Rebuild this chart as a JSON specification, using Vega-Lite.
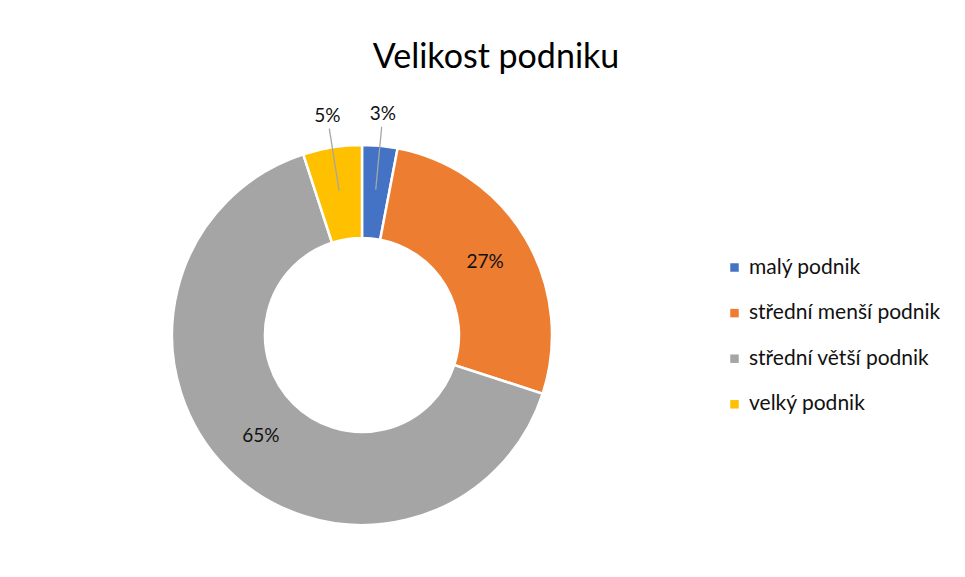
{
  "$schema": "https://vega.github.io/schema/vega-lite/v6.json",
  "width": 524,
  "height": 470,
  "autosize": "none",
  "padding": {"left": 100, "top": 100, "right": 341, "bottom": 7},
  "background": "white",
  "config": {"view": {"stroke": null}, "font": "Lato"},
  "title": {"text": "Velikost podniku", "fontSize": 34, "fontWeight": "normal", "color": "#000000", "dx": 134, "offset": 25},
  "data": {"values": [
    {"category": "malý podnik", "share": 0.03},
    {"category": "střední menší podnik", "share": 0.27},
    {"category": "střední větší podnik", "share": 0.65},
    {"category": "velký podnik", "share": 0.05}
  ]},
  "encoding": {
    "theta": {"field": "share", "type": "quantitative", "stack": true},
    "order": {"field": "category", "type": "ordinal", "sort": "ascending"},
    "color": {
      "field": "category", "type": "nominal",
      "scale": {"domain": ["malý podnik", "střední menší podnik", "střední větší podnik", "velký podnik"], "range": ["#4472C4", "#ED7D31", "#A5A5A5", "#FFC000"]},
      "legend": {"title": null, "orient": "none", "legendX": 624, "legendY": 157, "symbolType": "square", "symbolSize": 72, "symbolStrokeWidth": 0, "labelFontSize": 21, "labelColor": "#111111", "rowPadding": 23.6, "labelOffset": 4, "labelLimit": 400}
    }
  },
  "layer": [
    {
      "mark": {"type": "arc", "innerRadius": 97, "outerRadius": 190, "stroke": "white", "strokeWidth": 2.5}
    },
    {
      "mark": {"type": "arc", "innerRadius": 146, "outerRadius": 209, "padAngle": 1.5, "strokeWidth": 1.3},
      "encoding": {
        "fillOpacity": {"value": 0},
        "stroke": {"value": "#A6A6A6"},
        "opacity": {"condition": {"test": "datum.share < 0.1", "value": 1}, "value": 0}
      }
    },
    {
      "mark": {"type": "text", "radius": 143, "fontSize": 19},
      "encoding": {
        "fill": {"value": "#111111"},
        "text": {"field": "share", "type": "quantitative", "format": ".0%"},
        "opacity": {"condition": {"test": "datum.share > 0.1", "value": 1}, "value": 0}
      }
    },
    {
      "mark": {"type": "text", "radius": 222, "fontSize": 19},
      "encoding": {
        "fill": {"value": "#111111"},
        "text": {"field": "share", "type": "quantitative", "format": ".0%"},
        "opacity": {"condition": {"test": "datum.share < 0.1", "value": 1}, "value": 0}
      }
    }
  ]
}
